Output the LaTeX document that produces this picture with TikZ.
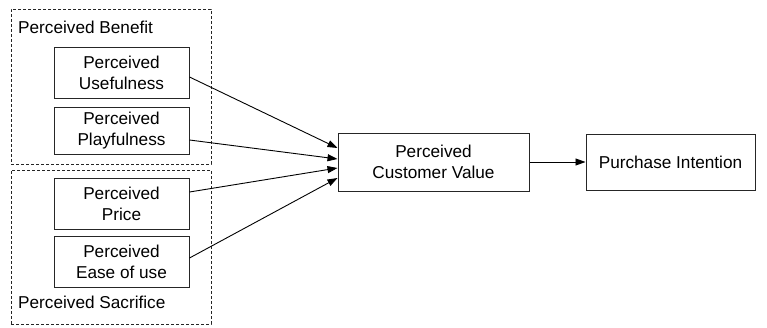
\documentclass[tikz,border=0pt]{standalone}
\usepackage{fontspec}
\setmainfont{Liberation Sans}
\usetikzlibrary{arrows.meta,calc}
\begin{document}
\begin{tikzpicture}[x=1pt,y=-1pt,
  every node/.style={font=\fontsize{17.2}{21}\selectfont, inner sep=0pt, align=center},
  factor/.style={draw=black!85, line width=1pt, minimum width=135pt, minimum height=51pt},
  group/.style={draw=black!85, line width=0.8pt, dash pattern=on 3pt off 2pt},
  flow/.style={draw=black, line width=0.9pt, -{Triangle[length=10pt,width=7pt]}}]
  \useasboundingbox (0,0) rectangle (767,327);
  % dashed grouping frames
  \node[group, minimum width=200pt, minimum height=155pt] (benefit) at (111,86.5) {};
  \node[group, minimum width=200pt, minimum height=154pt] (sacrifice) at (111,247) {};
  \node[anchor=north west] (benefitlbl) at (18,21) {Perceived Benefit};
  \node[anchor=north west] (sacrificelbl) at (18,296) {Perceived Sacrifice};
  % antecedent factors
  \node[factor] (useful) at (121.5,72.5) {Perceived\\Usefulness};
  \node[factor, minimum height=47pt] (playful) at (121.5,130.5) {Perceived\\Playfulness};
  \node[factor] (price) at (121.5,203.5) {Perceived\\Price};
  \node[factor] (ease) at (121.5,261.5) {Perceived\\Ease of use};
  % value and outcome
  \node[factor, minimum width=191pt, minimum height=58pt] (value) at (433.5,162) {Perceived\\Customer Value};
  \node[factor, minimum width=169pt, minimum height=56pt] (intent) at (670.5,162) {Purchase Intention};
  % connectors
  \draw[flow] ($(useful.east)+(0,4.5)$) -- ($(value.west)+(0,-14)$);
  \draw[flow] ($(playful.east)+(0,9.5)$) -- ($(value.west)+(0,-3)$);
  \draw[flow] ($(price.east)+(0,-11.5)$) -- ($(value.west)+(0,6)$);
  \draw[flow] ($(ease.east)+(0,-3.5)$) -- ($(value.west)+(0,16)$);
  \draw[flow] (value.east) -- (intent.west);
\end{tikzpicture}
\end{document}
